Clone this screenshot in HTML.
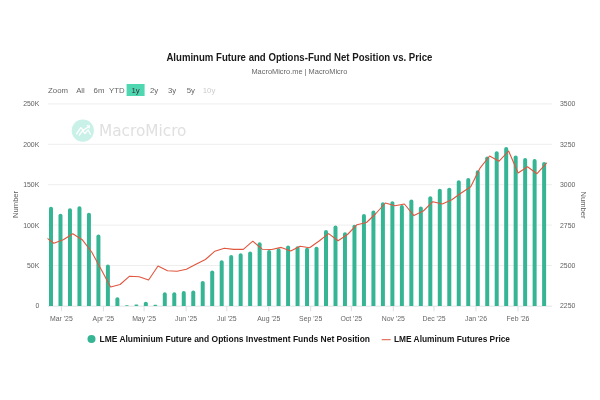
<!DOCTYPE html>
<html><head><meta charset="utf-8"><title>Aluminum Future and Options-Fund Net Position vs. Price</title>
<style>html,body{margin:0;padding:0;background:#fff;overflow:hidden}body{width:600px;height:400px;position:relative}</style></head>
<body>
<svg width="600" height="400" viewBox="0 0 600 400" style="position:absolute;left:0;top:0;font-family:'Liberation Sans',sans-serif">
<rect width="600" height="400" fill="#fff"/>
<rect x="48" y="103.4" width="504" height="1" fill="#eeeeee"/>
<rect x="48" y="143.8" width="504" height="1" fill="#eeeeee"/>
<rect x="48" y="184.2" width="504" height="1" fill="#eeeeee"/>
<rect x="48" y="224.6" width="504" height="1" fill="#eeeeee"/>
<rect x="48" y="265.0" width="504" height="1" fill="#eeeeee"/>
<rect x="48" y="305.7" width="504" height="0.9" fill="#dcdfe3"/>
<rect x="60.9" y="306" width="1" height="5.3" fill="#dcdfe3"/>
<text x="61.4" y="321.3" font-size="6.9" fill="#666" text-anchor="middle">Mar '25</text>
<rect x="102.9" y="306" width="1" height="5.3" fill="#dcdfe3"/>
<text x="103.4" y="321.3" font-size="6.9" fill="#666" text-anchor="middle">Apr '25</text>
<rect x="143.6" y="306" width="1" height="5.3" fill="#dcdfe3"/>
<text x="144.1" y="321.3" font-size="6.9" fill="#666" text-anchor="middle">May '25</text>
<rect x="185.6" y="306" width="1" height="5.3" fill="#dcdfe3"/>
<text x="186.1" y="321.3" font-size="6.9" fill="#666" text-anchor="middle">Jun '25</text>
<rect x="226.3" y="306" width="1" height="5.3" fill="#dcdfe3"/>
<text x="226.8" y="321.3" font-size="6.9" fill="#666" text-anchor="middle">Jul '25</text>
<rect x="268.3" y="306" width="1" height="5.3" fill="#dcdfe3"/>
<text x="268.8" y="321.3" font-size="6.9" fill="#666" text-anchor="middle">Aug '25</text>
<rect x="310.2" y="306" width="1" height="5.3" fill="#dcdfe3"/>
<text x="310.7" y="321.3" font-size="6.9" fill="#666" text-anchor="middle">Sep '25</text>
<rect x="350.8" y="306" width="1" height="5.3" fill="#dcdfe3"/>
<text x="351.3" y="321.3" font-size="6.9" fill="#666" text-anchor="middle">Oct '25</text>
<rect x="392.8" y="306" width="1" height="5.3" fill="#dcdfe3"/>
<text x="393.3" y="321.3" font-size="6.9" fill="#666" text-anchor="middle">Nov '25</text>
<rect x="433.5" y="306" width="1" height="5.3" fill="#dcdfe3"/>
<text x="434.0" y="321.3" font-size="6.9" fill="#666" text-anchor="middle">Dec '25</text>
<rect x="475.5" y="306" width="1" height="5.3" fill="#dcdfe3"/>
<text x="476.0" y="321.3" font-size="6.9" fill="#666" text-anchor="middle">Jan '26</text>
<rect x="517.5" y="306" width="1" height="5.3" fill="#dcdfe3"/>
<text x="518.0" y="321.3" font-size="6.9" fill="#666" text-anchor="middle">Feb '26</text>
<g opacity="1"><circle cx="82.8" cy="130.6" r="11.1" fill="#c9f1e7"/>
<polyline points="76.5,133.8 80.8,127.7 83.4,130.3 89.4,125.9 87.3,125.7 89.4,125.9 89.2,127.9" fill="none" stroke="#fff" stroke-width="1.3" stroke-linejoin="round" stroke-linecap="round"/>
<polyline points="79.3,135 82.6,130.6 85,133.6 88,129.8 90.5,134.2" fill="none" stroke="#fff" stroke-width="1.3" stroke-linejoin="round" stroke-linecap="round"/>
<text x="99" y="136.3" font-family="DejaVu Sans, sans-serif" font-size="15" fill="#e0e0e0" textLength="87.5" lengthAdjust="spacingAndGlyphs">MacroMicro</text></g>
<path d="M49.00,306 V208.60 a2.0,1.9 0 0 1 4.0,0 V306 Z" fill="#36b595"/>
<path d="M58.48,306 V215.60 a2.0,1.9 0 0 1 4.0,0 V306 Z" fill="#36b595"/>
<path d="M67.97,306 V210.10 a2.0,1.9 0 0 1 4.0,0 V306 Z" fill="#36b595"/>
<path d="M77.45,306 V208.10 a2.0,1.9 0 0 1 4.0,0 V306 Z" fill="#36b595"/>
<path d="M86.93,306 V214.60 a2.0,1.9 0 0 1 4.0,0 V306 Z" fill="#36b595"/>
<path d="M96.42,306 V236.40 a2.0,1.9 0 0 1 4.0,0 V306 Z" fill="#36b595"/>
<path d="M105.90,306 V266.40 a2.0,1.9 0 0 1 4.0,0 V306 Z" fill="#36b595"/>
<path d="M115.38,306 V299.10 a2.0,1.9 0 0 1 4.0,0 V306 Z" fill="#36b595"/>
<rect x="124.86" y="305.2" width="4.0" height="0.8" rx="1" fill="#36b595"/>
<rect x="134.35" y="304.4" width="4.0" height="1.6" rx="1" fill="#36b595"/>
<path d="M143.83,306 V303.60 a2.0,1.9 0 0 1 4.0,0 V306 Z" fill="#36b595"/>
<rect x="153.31" y="304.7" width="4.0" height="1.3" rx="1" fill="#36b595"/>
<path d="M162.80,306 V294.20 a2.0,1.9 0 0 1 4.0,0 V306 Z" fill="#36b595"/>
<path d="M172.28,306 V294.20 a2.0,1.9 0 0 1 4.0,0 V306 Z" fill="#36b595"/>
<path d="M181.76,306 V292.90 a2.0,1.9 0 0 1 4.0,0 V306 Z" fill="#36b595"/>
<path d="M191.25,306 V292.40 a2.0,1.9 0 0 1 4.0,0 V306 Z" fill="#36b595"/>
<path d="M200.73,306 V282.80 a2.0,1.9 0 0 1 4.0,0 V306 Z" fill="#36b595"/>
<path d="M210.21,306 V272.30 a2.0,1.9 0 0 1 4.0,0 V306 Z" fill="#36b595"/>
<path d="M219.69,306 V262.10 a2.0,1.9 0 0 1 4.0,0 V306 Z" fill="#36b595"/>
<path d="M229.18,306 V256.90 a2.0,1.9 0 0 1 4.0,0 V306 Z" fill="#36b595"/>
<path d="M238.66,306 V255.10 a2.0,1.9 0 0 1 4.0,0 V306 Z" fill="#36b595"/>
<path d="M248.14,306 V253.40 a2.0,1.9 0 0 1 4.0,0 V306 Z" fill="#36b595"/>
<path d="M257.63,306 V244.20 a2.0,1.9 0 0 1 4.0,0 V306 Z" fill="#36b595"/>
<path d="M267.11,306 V251.90 a2.0,1.9 0 0 1 4.0,0 V306 Z" fill="#36b595"/>
<path d="M276.59,306 V250.10 a2.0,1.9 0 0 1 4.0,0 V306 Z" fill="#36b595"/>
<path d="M286.08,306 V247.40 a2.0,1.9 0 0 1 4.0,0 V306 Z" fill="#36b595"/>
<path d="M295.56,306 V248.10 a2.0,1.9 0 0 1 4.0,0 V306 Z" fill="#36b595"/>
<path d="M305.04,306 V249.60 a2.0,1.9 0 0 1 4.0,0 V306 Z" fill="#36b595"/>
<path d="M314.52,306 V248.60 a2.0,1.9 0 0 1 4.0,0 V306 Z" fill="#36b595"/>
<path d="M324.01,306 V231.90 a2.0,1.9 0 0 1 4.0,0 V306 Z" fill="#36b595"/>
<path d="M333.49,306 V227.40 a2.0,1.9 0 0 1 4.0,0 V306 Z" fill="#36b595"/>
<path d="M342.97,306 V234.10 a2.0,1.9 0 0 1 4.0,0 V306 Z" fill="#36b595"/>
<path d="M352.46,306 V226.60 a2.0,1.9 0 0 1 4.0,0 V306 Z" fill="#36b595"/>
<path d="M361.94,306 V215.90 a2.0,1.9 0 0 1 4.0,0 V306 Z" fill="#36b595"/>
<path d="M371.42,306 V212.40 a2.0,1.9 0 0 1 4.0,0 V306 Z" fill="#36b595"/>
<path d="M380.91,306 V204.10 a2.0,1.9 0 0 1 4.0,0 V306 Z" fill="#36b595"/>
<path d="M390.39,306 V203.10 a2.0,1.9 0 0 1 4.0,0 V306 Z" fill="#36b595"/>
<path d="M399.87,306 V207.00 a2.0,1.9 0 0 1 4.0,0 V306 Z" fill="#36b595"/>
<path d="M409.35,306 V201.50 a2.0,1.9 0 0 1 4.0,0 V306 Z" fill="#36b595"/>
<path d="M418.84,306 V208.40 a2.0,1.9 0 0 1 4.0,0 V306 Z" fill="#36b595"/>
<path d="M428.32,306 V198.20 a2.0,1.9 0 0 1 4.0,0 V306 Z" fill="#36b595"/>
<path d="M437.80,306 V190.70 a2.0,1.9 0 0 1 4.0,0 V306 Z" fill="#36b595"/>
<path d="M447.29,306 V189.60 a2.0,1.9 0 0 1 4.0,0 V306 Z" fill="#36b595"/>
<path d="M456.77,306 V182.10 a2.0,1.9 0 0 1 4.0,0 V306 Z" fill="#36b595"/>
<path d="M466.25,306 V179.90 a2.0,1.9 0 0 1 4.0,0 V306 Z" fill="#36b595"/>
<path d="M475.74,306 V172.10 a2.0,1.9 0 0 1 4.0,0 V306 Z" fill="#36b595"/>
<path d="M485.22,306 V158.30 a2.0,1.9 0 0 1 4.0,0 V306 Z" fill="#36b595"/>
<path d="M494.70,306 V153.10 a2.0,1.9 0 0 1 4.0,0 V306 Z" fill="#36b595"/>
<path d="M504.18,306 V148.90 a2.0,1.9 0 0 1 4.0,0 V306 Z" fill="#36b595"/>
<path d="M513.67,306 V157.40 a2.0,1.9 0 0 1 4.0,0 V306 Z" fill="#36b595"/>
<path d="M523.15,306 V159.90 a2.0,1.9 0 0 1 4.0,0 V306 Z" fill="#36b595"/>
<path d="M532.63,306 V160.90 a2.0,1.9 0 0 1 4.0,0 V306 Z" fill="#36b595"/>
<path d="M542.12,306 V163.90 a2.0,1.9 0 0 1 4.0,0 V306 Z" fill="#36b595"/>
<clipPath id="c"><rect x="47.5" y="100" width="505" height="207"/></clipPath>
<polyline clip-path="url(#c)" points="44.3,236.0 53.8,243.3 63.3,239.7 72.8,233.7 82.2,239.7 91.7,252.0 101.2,269.5 110.6,287.0 120.1,284.5 129.6,276.2 139.1,276.7 148.6,280.0 158.0,266.0 167.5,270.7 177.0,271.3 186.4,269.2 195.9,264.3 205.4,259.5 214.9,251.2 224.3,248.2 233.8,249.4 243.3,249.4 252.8,241.2 262.2,249.2 271.7,249.5 281.2,247.4 290.7,251.0 300.1,246.2 309.6,247.7 319.1,241.0 328.6,233.6 338.1,240.7 347.5,234.5 357.0,224.7 366.5,222.5 375.9,213.5 385.4,203.0 394.9,205.7 404.4,204.0 413.9,215.6 423.3,211.0 432.8,201.7 442.3,204.0 451.8,199.7 461.2,193.0 470.7,186.7 480.2,167.8 489.6,156.0 499.1,161.2 508.6,151.0 518.1,173.0 527.5,166.8 537.0,173.7 546.5,163.2" fill="none" stroke="#e0563e" stroke-width="1.1" stroke-linejoin="round" stroke-linecap="round"/>
<text x="39.3" y="106.4" font-size="6.9" fill="#606060" text-anchor="end">250K</text>
<text x="39.3" y="146.8" font-size="6.9" fill="#606060" text-anchor="end">200K</text>
<text x="39.3" y="187.2" font-size="6.9" fill="#606060" text-anchor="end">150K</text>
<text x="39.3" y="227.6" font-size="6.9" fill="#606060" text-anchor="end">100K</text>
<text x="39.3" y="268.0" font-size="6.9" fill="#606060" text-anchor="end">50K</text>
<text x="39.3" y="308.1" font-size="6.9" fill="#606060" text-anchor="end">0</text>
<text x="560" y="106.4" font-size="6.9" fill="#606060">3500</text>
<text x="560" y="146.8" font-size="6.9" fill="#606060">3250</text>
<text x="560" y="187.2" font-size="6.9" fill="#606060">3000</text>
<text x="560" y="227.6" font-size="6.9" fill="#606060">2750</text>
<text x="560" y="268.0" font-size="6.9" fill="#606060">2500</text>
<text x="560" y="308.1" font-size="6.9" fill="#606060">2250</text>
<text transform="translate(17.6,204.4) rotate(-90)" font-size="7.6" fill="#606060" text-anchor="middle">Number</text>
<text transform="translate(580.5,205) rotate(90)" font-size="7.6" fill="#606060" text-anchor="middle">Number</text>
<text x="299.4" y="60.5" font-size="10.2" font-weight="bold" fill="#1a1a1a" text-anchor="middle" textLength="266" lengthAdjust="spacingAndGlyphs">Aluminum Future and Options-Fund Net Position vs. Price</text>
<text x="299.4" y="73.5" font-size="6.7" fill="#666" text-anchor="middle" textLength="96" lengthAdjust="spacingAndGlyphs">MacroMicro.me | MacroMicro</text>
<rect x="126.6" y="84" width="18" height="12" fill="#4fd7b2"/>
<text x="58" y="93" font-size="7.8" fill="#666" text-anchor="middle">Zoom</text>
<text x="80.5" y="93" font-size="7.8" fill="#666" text-anchor="middle">All</text>
<text x="99" y="93" font-size="7.8" fill="#666" text-anchor="middle">6m</text>
<text x="116.8" y="93" font-size="7.8" fill="#666" text-anchor="middle">YTD</text>
<text x="135.5" y="93" font-size="7.8" fill="#333" text-anchor="middle">1y</text>
<text x="154" y="93" font-size="7.8" fill="#666" text-anchor="middle">2y</text>
<text x="172" y="93" font-size="7.8" fill="#666" text-anchor="middle">3y</text>
<text x="190.75" y="93" font-size="7.8" fill="#666" text-anchor="middle">5y</text>
<text x="209" y="93" font-size="7.8" fill="#ccc" text-anchor="middle">10y</text>
<circle cx="91.5" cy="338.9" r="4" fill="#36b595"/>
<text x="99.5" y="342.2" font-size="9.8" font-weight="bold" fill="#151515" textLength="270.5" lengthAdjust="spacingAndGlyphs">LME Aluminium Future and Options Investment Funds Net Position</text>
<rect x="381.7" y="339.2" width="9" height="1" fill="#e0563e"/>
<text x="394" y="342.2" font-size="9.8" font-weight="bold" fill="#151515" textLength="116" lengthAdjust="spacingAndGlyphs">LME Aluminum Futures Price</text>
</svg>
</body></html>
